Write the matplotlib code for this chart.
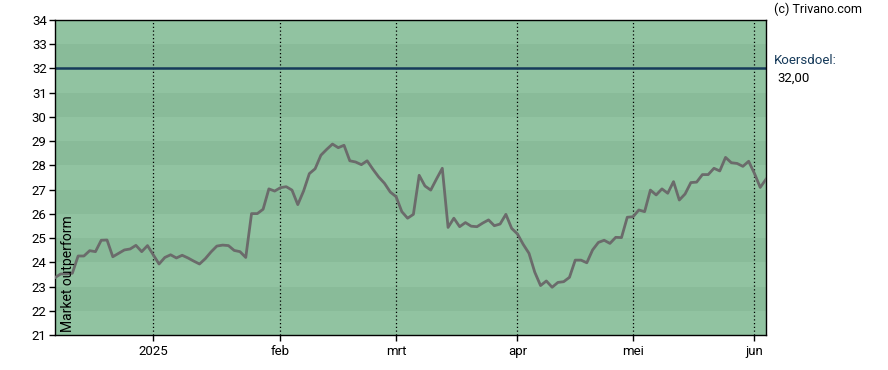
import matplotlib
matplotlib.use("Agg")
import matplotlib.pyplot as plt

# koers per handelsdag (index-as)
prices = [
    23.37, 23.52, 23.52, 23.55, 24.26, 24.26, 24.48, 24.44, 24.91, 24.92,
    24.23, 24.37, 24.51, 24.55, 24.70, 24.44, 24.69, 24.31, 23.93, 24.20,
    24.31, 24.18, 24.29, 24.18, 24.05, 23.93, 24.15, 24.43, 24.67, 24.71,
    24.69, 24.49, 24.44, 24.20, 26.01, 26.01, 26.19, 27.03, 26.94, 27.08,
    27.12, 26.98, 26.38, 26.94, 27.66, 27.86, 28.42, 28.66, 28.88, 28.73,
    28.83, 28.19, 28.14, 28.03, 28.19, 27.84, 27.52, 27.26, 26.90, 26.71,
    26.09, 25.82, 25.98, 27.59, 27.15, 26.98, 27.44, 27.88, 25.44, 25.82,
    25.47, 25.64, 25.49, 25.47, 25.62, 25.75, 25.51, 25.58, 25.98, 25.40,
    25.17, 24.74, 24.37, 23.59, 23.04, 23.23, 22.97, 23.17, 23.20, 23.38,
    24.09, 24.09, 23.98, 24.51, 24.82, 24.91, 24.78, 25.03, 25.02, 25.86,
    25.88, 26.16, 26.09, 26.98, 26.78, 27.03, 26.85, 27.33, 26.57, 26.82,
    27.29, 27.31, 27.62, 27.62, 27.88, 27.77, 28.33, 28.11, 28.08, 27.96,
    28.17, 27.67, 27.09, 27.43,
]
target = 32.00
month_pos = [17, 39, 59, 80, 100, 121]
month_labels = ["2025", "feb", "mrt", "apr", "mei", "jun"]
y_ticks = list(range(21, 35))

LIGHT = "#91c3a1"
DARK = "#89bb99"
LINE = "#6b6b6b"
NAVY = "#163a5a"

plt.rcParams["font.family"] = ["Roboto", "DejaVu Sans"]

fig = plt.figure(figsize=(8.88, 3.70), dpi=100)
ax = fig.add_axes([55 / 888, 35 / 370, 711 / 888, 315 / 370])

x = list(range(len(prices)))
ax.set_xlim(0, len(prices) - 1)
ax.set_ylim(21, 34)

# horizontal bands
for lo in range(21, 34):
    ax.axhspan(lo, lo + 1, color=DARK if lo % 2 == 0 else LIGHT, lw=0, zorder=0)

for p in month_pos:
    ax.axvline(p, color="black", lw=0.9, ls=(0, (1, 2)), zorder=1)

ax.axhline(target, color=NAVY, lw=1.8, zorder=2)
ax.plot(x, prices, color=LINE, lw=2, zorder=3)

ax.set_yticks(y_ticks)
ax.set_yticklabels([str(v) for v in y_ticks])
ax.set_xticks(month_pos)
ax.set_xticklabels(month_labels)
ax.tick_params(axis="both", direction="out", length=4, width=1, labelsize=9.5, colors="black")
ax.tick_params(axis="y", pad=2)
ax.tick_params(axis="x", pad=3)
for s in ax.spines.values():
    s.set_color("black")
    s.set_linewidth(1)

ax.text(0.008, 0.01, "Market outperform", transform=ax.transAxes, rotation=90,
        ha="left", va="bottom", fontsize=10, color="black")

fig.text(774 / 888, 1 - 9 / 370, "(c) Trivano.com", ha="left", va="center", fontsize=9, color="black")
fig.text(774 / 888, 1 - 60 / 370, "Koersdoel:", ha="left", va="center", fontsize=9.5, color=NAVY)
fig.text(777 / 888, 1 - 78 / 370, "32,00", ha="left", va="center", fontsize=9.5, color="black")

fig.savefig("out.png", dpi=100)
